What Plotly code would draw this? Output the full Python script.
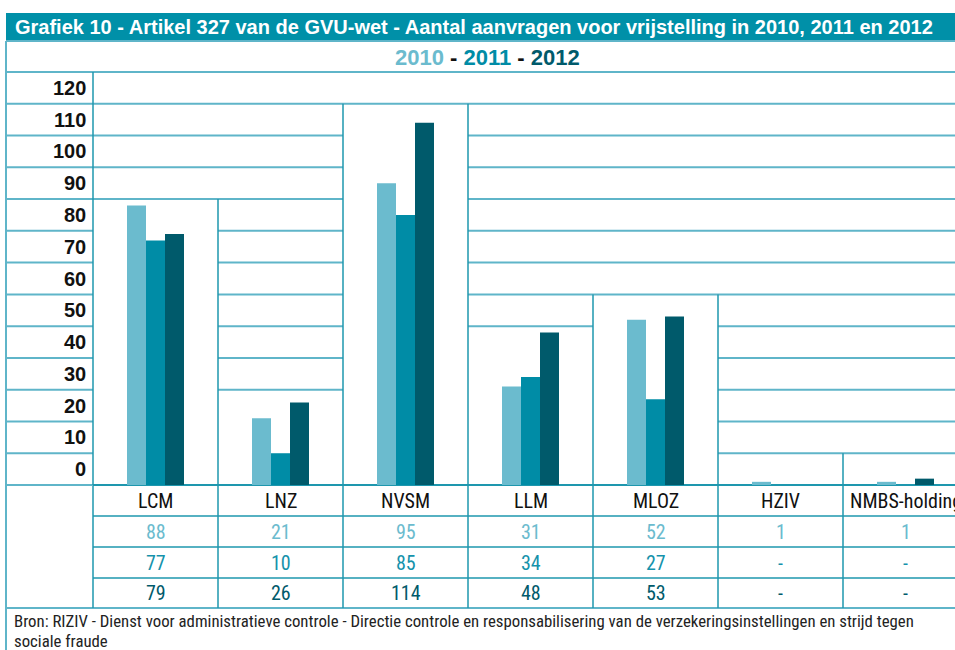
import math
import plotly.graph_objects as go

# ---------------- data ----------------
categories = ["LCM", "LNZ", "NVSM", "LLM", "MLOZ", "HZIV", "NMBS-holding"]
years = ["2010", "2011", "2012"]
values_2010 = [88, 21, 95, 31, 52, 1, 1]
values_2011 = [77, 10, 85, 34, 27, 0, 0]
values_2012 = [79, 26, 114, 48, 53, 0, 2]
table_2010 = ["88", "21", "95", "31", "52", "1", "1"]
table_2011 = ["77", "10", "85", "34", "27", "-", "-"]
table_2012 = ["79", "26", "114", "48", "53", "-", "-"]
y_tick_labels = ["0", "10", "20", "30", "40", "50", "60", "70", "80", "90", "100", "110", "120"]
title_text = "Grafiek 10 - Artikel 327 van de GVU-wet - Aantal aanvragen voor vrijstelling in 2010, 2011 en 2012"
source_lines = ["Bron: RIZIV - Dienst voor administratieve controle - Directie controle en responsabilisering "
                "van de verzekeringsinstellingen en strijd tegen",
                "sociale fraude"]

# ---------------- style ----------------
W, H = 955, 650
C2010, C2011, C2012 = "#6BBBCE", "#008CA6", "#005A6B"
TEAL = "#0090A8"
HLINE = "#5FB5C9"
VLINE = "#1E97AE"
NARROW = "Liberation Sans Narrow, Arial Narrow, Roboto Condensed, DejaVu Sans Condensed, sans-serif"
WIDE = "Liberation Sans, Arial, Helvetica, sans-serif"

COL_PX = 125.0             # width of a category column in px
LEFT_PX = 93.0             # x pixel of left edge of first column
BASE_PX = 485.0            # y pixel of value 0
TOP_PX = 72.0              # y pixel of value 130
YMAX = 130
PX_PER_UNIT = (BASE_PX - TOP_PX) / YMAX

x_range = [-0.5 - LEFT_PX / COL_PX, -0.5 + (W - LEFT_PX) / COL_PX]
y_range = [-(H - BASE_PX) / PX_PER_UNIT, BASE_PX / PX_PER_UNIT]


def fy(p):   # paper y from pixel
    return 1 - p / H


def fx(p):   # paper x from pixel
    return p / W


fig = go.Figure()
for name, vals, col in [(years[0], values_2010, C2010), (years[1], values_2011, C2011), (years[2], values_2012, C2012)]:
    fig.add_trace(go.Bar(x=categories, y=vals, name=name, marker=dict(color=col, line=dict(width=0)),
                         showlegend=False, hoverinfo="x+y+name"))

shapes = []
annotations = []

n = len(categories)
maxes = [max(a, b, c) for a, b, c in zip(values_2010, values_2011, values_2012)]
col_top = [int(math.ceil(m / 10.0) * 10) if m > 0 else 10 for m in maxes]


def hline(x0, x1, y, xref="x", yref="y", color=HLINE, width=2):
    shapes.append(dict(type="line", xref=xref, yref=yref, x0=x0, x1=x1, y0=y, y1=y,
                       line=dict(color=color, width=width), layer="below"))


def vline(x, y0, y1, xref="x", yref="y", color=VLINE, width=1.5):
    shapes.append(dict(type="line", xref=xref, yref=yref, x0=x, x1=x, y0=y0, y1=y1,
                       line=dict(color=color, width=width), layer="below"))


# title bar
shapes.append(dict(type="rect", xref="paper", yref="paper", x0=fx(6), x1=1.0, y0=fy(40), y1=fy(13),
                   fillcolor=TEAL, line=dict(width=0), layer="below"))

# horizontal grid segments per level within columns
for lvl in range(10, YMAX + 1, 10):
    i = 0
    while i < n:
        if col_top[i] <= lvl:
            j = i
            while j + 1 < n and col_top[j + 1] <= lvl:
                j += 1
            hline(i - 0.5, j + 0.5, lvl)
            i = j + 1
        else:
            i += 1
# baseline
hline(-0.5, n - 0.5, 0, color=VLINE, width=2)
# left label column lines
for lvl in range(0, YMAX + 1, 10):
    hline(x_range[0] + 6 / COL_PX, -0.5, lvl)
# vertical column lines within the chart
vline(-0.5, 0, YMAX)
for i in range(n - 1):
    vline(i + 0.5, 0, max(col_top[i], col_top[i + 1]))
vline(n - 0.5, 0, col_top[-1])

# frame lines
vline(fx(6), fy(41), fy(650), xref="paper", yref="paper", color=HLINE, width=2)
hline(fx(6), 1.0, fy(41), xref="paper", yref="paper")
hline(fx(6), 1.0, fy(608), xref="paper", yref="paper")

# table lines
for p in [516, 547, 578]:
    hline(-0.5, n - 0.5, fy(p), yref="paper", color=VLINE, width=1.5)
for i in range(n + 1):
    vline(i - 0.5, fy(485), fy(608), yref="paper")

# y labels (centered inside each 10-unit cell)
for k, lab in enumerate(y_tick_labels):
    annotations.append(dict(xref="paper", yref="y", x=fx(88), y=k * 10 + 5, text="<b>%s</b>" % lab,
                            xanchor="right", yanchor="middle", showarrow=False,
                            font=dict(family=WIDE, size=20, color="#111111")))

# category labels and table values
rows = [(500.5, categories, "#111111"), (531.5, table_2010, C2010), (562.5, table_2011, "#1592AB"),
        (593, table_2012, C2012)]
for p, labels, color in rows:
    for i, lab in enumerate(labels):
        annotations.append(dict(xref="x", yref="paper", x=i, y=fy(p), text=lab, xanchor="center",
                                yanchor="middle", showarrow=False,
                                font=dict(family=NARROW, size=20, color=color)))

# title
annotations.append(dict(xref="paper", yref="paper", x=fx(13), y=fy(27), text="<b>%s</b>" % title_text,
                        xanchor="left", yanchor="middle", showarrow=False,
                        font=dict(family=WIDE, size=20, color="white")))
# year legend row
legend_text = ("<b><span style='color:%s'>2010</span> - <span style='color:%s'>2011</span> - "
               "<span style='color:%s'>2012</span></b>" % (C2010, C2011, C2012))
annotations.append(dict(xref="paper", yref="paper", x=fx(487), y=fy(57), text=legend_text,
                        xanchor="center", yanchor="middle", showarrow=False,
                        font=dict(family=WIDE, size=22, color="#111111")))
# source (two lines, tight spacing)
for p, line in zip([621, 640.5], source_lines):
    annotations.append(dict(xref="paper", yref="paper", x=fx(12), y=fy(p), text=line,
                            xanchor="left", yanchor="middle", align="left", showarrow=False,
                            font=dict(family=NARROW, size=16.8, color="#222222")))

fig.update_layout(
    width=W, height=H,
    margin=dict(l=0, r=0, t=0, b=0),
    paper_bgcolor="white", plot_bgcolor="white",
    barmode="group", bargap=0.544, bargroupgap=0,
    xaxis=dict(range=x_range, showgrid=False, zeroline=False, showticklabels=False, ticks="",
               showline=False, automargin=False, fixedrange=True),
    yaxis=dict(range=y_range, showgrid=False, zeroline=False, showticklabels=False, ticks="",
               showline=False, automargin=False, fixedrange=True),
    shapes=shapes, annotations=annotations,
    font=dict(family=NARROW),
)

fig.write_html("out.html", config={"displayModeBar": False},
               post_script="document.body.style.margin='0';document.body.style.overflow='hidden';")
